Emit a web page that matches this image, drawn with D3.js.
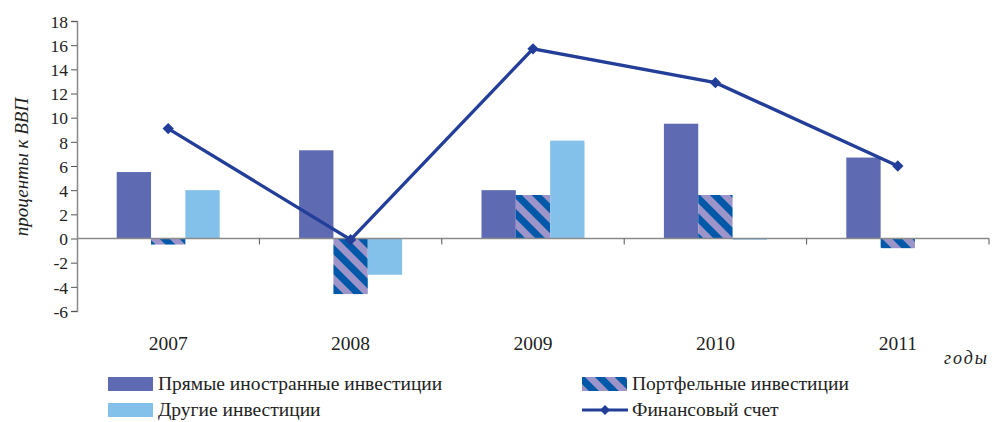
<!DOCTYPE html>
<html><head><meta charset="utf-8">
<script src="https://cdn.jsdelivr.net/npm/d3@7/dist/d3.min.js"></script>
<style>body{margin:0;background:#fff} svg text{font-family:"Liberation Serif","DejaVu Serif",serif;}</style>
</head><body>
<svg id="c" width="1003" height="422"></svg>
<script>
const years = ["2007","2008","2009","2010","2011"];
const fdi = [5.5, 7.3, 4.0, 9.5, 6.7];
const portfolio = [-0.5, -4.6, 3.6, 3.6, -0.8];
const other = [4.0, -3.0, 8.1, -0.1, 0.0];
const finAccount = [9.1, -0.1, 15.7, 12.9, 6.0];
const yTicks = [-6,-4,-2,0,2,4,6,8,10,12,14,16,18];
const seriesNames = ["Прямые иностранные инвестиции","Портфельные инвестиции","Другие инвестиции","Финансовый счет"];

const svg = d3.select("#c");
const x0 = 77, x1 = 989;
const y = d3.scaleLinear().domain([-6,18]).range([311,21]);
const x = d3.scaleBand().domain(years).range([x0,x1]).paddingInner(0).paddingOuter(0);
const groupW = 103;
const xs = d3.scaleBand().domain([0,1,2]).range([0,groupW]);

const defs = svg.append("defs");
const pat = defs.append("pattern").attr("id","stripes").attr("patternUnits","userSpaceOnUse")
  .attr("width",14).attr("height",14).attr("patternTransform","rotate(-45)");
pat.append("rect").attr("width",14).attr("height",14).attr("fill","#9D95C9");
pat.append("rect").attr("width",7).attr("height",14).attr("fill","#0058A8");

const colors = ["#5E6BB3","url(#stripes)","#83C1EA"];
const data = [fdi, portfolio, other];

data.forEach((arr,si)=>{
  svg.append("g").selectAll("rect").data(arr).join("rect")
    .attr("x",(d,i)=>x(years[i]) + x.bandwidth()/2 - groupW/2 + xs(si))
    .attr("width",xs.bandwidth())
    .attr("y",d=>y(Math.max(0,d)))
    .attr("height",d=>Math.max(Math.abs(y(d)-y(0)), d===0?0:1))
    .attr("fill",colors[si]);
});

const yAxis = svg.append("g").attr("transform",`translate(${x0},0)`)
  .call(d3.axisLeft(y).tickValues(yTicks).tickSize(6).tickPadding(3).tickFormat(d=>d));
yAxis.attr("font-family",null).attr("font-size",null);
yAxis.select(".domain").attr("stroke","#8a8a8a").attr("stroke-width",1.5);
yAxis.selectAll(".tick line").attr("stroke","#555");
yAxis.selectAll("text").attr("font-size",17.5).attr("fill","#222").attr("dy","0.36em");

svg.append("line").attr("x1",x0).attr("x2",x1).attr("y1",y(0)).attr("y2",y(0))
  .attr("stroke","#8a8a8a").attr("stroke-width",1.5);
const bounds = years.map(yr=>x(yr)).concat([x1]);
svg.append("g").selectAll("line").data(bounds.slice(1)).join("line")
  .attr("x1",d=>d).attr("x2",d=>d).attr("y1",y(0)).attr("y2",y(0)+6)
  .attr("stroke","#555").attr("stroke-width",1);
svg.append("g").selectAll("text").data(years).join("text")
  .attr("x",d=>x(d)+x.bandwidth()/2).attr("y",350)
  .attr("text-anchor","middle").attr("font-size",19.5).attr("fill","#222")
  .text(d=>d);

const line = d3.line().x((d,i)=>x(years[i])+x.bandwidth()/2).y(d=>y(d));
svg.append("path").datum(finAccount).attr("d",line).attr("fill","none")
  .attr("stroke","#233E99").attr("stroke-width",3.3);
svg.append("g").selectAll("path").data(finAccount).join("path")
  .attr("d",d3.symbol().type(d3.symbolSquare).size(64))
  .attr("transform",(d,i)=>`translate(${x(years[i])+x.bandwidth()/2},${y(d)}) rotate(45)`)
  .attr("fill","#233E99");

svg.append("text").attr("transform","translate(28,167) rotate(-90)")
  .attr("text-anchor","middle").attr("font-style","italic")
  .attr("font-size",19).attr("fill","#222").text("проценты к ВВП");
svg.append("text").attr("x",989).attr("y",364).attr("text-anchor","end")
  .attr("font-style","italic").attr("font-size",18).attr("letter-spacing",2).attr("fill","#222").text("годы");

const leg = svg.append("g");
const items = [
  {n:seriesNames[0], t:"rect", f:colors[0], x:108, y:384},
  {n:seriesNames[1], t:"rect", f:colors[1], x:582, y:384},
  {n:seriesNames[2], t:"rect", f:colors[2], x:108, y:410},
  {n:seriesNames[3], t:"line", x:582, y:410}
];
items.forEach(it=>{
  if(it.t==="rect"){
    leg.append("rect").attr("x",it.x).attr("y",it.y-7).attr("width",45).attr("height",14).attr("fill",it.f);
  } else {
    leg.append("line").attr("x1",it.x).attr("x2",it.x+46).attr("y1",it.y).attr("y2",it.y)
      .attr("stroke","#233E99").attr("stroke-width",3);
    leg.append("path").attr("d",d3.symbol().type(d3.symbolSquare).size(50))
      .attr("transform",`translate(${it.x+23},${it.y}) rotate(45)`).attr("fill","#233E99");
  }
  leg.append("text").attr("x",it.x+50).attr("y",it.y+6)
    .attr("font-size",19.5).attr("fill","#222").text(it.n);
});
</script>
</body></html>
